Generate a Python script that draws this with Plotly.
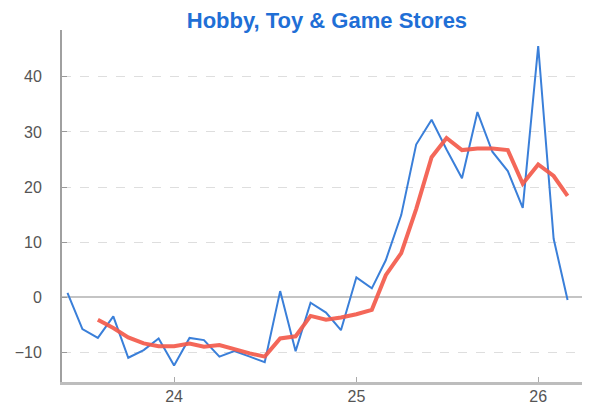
import pandas as pd
import plotly.graph_objects as go

months = pd.date_range("2023-06-01", periods=34, freq="MS")
monthly = [0.8, -5.8, -7.4, -3.5, -11.0, -9.6, -7.5,
           -12.4, -7.4, -7.8, -10.8, -9.8, -10.8, -11.8, 1.1, -9.8, -1.0, -2.8, -6.0,
           3.6, 1.6, 6.7, 14.9, 27.7, 32.2, 26.8, 21.6, 33.6, 26.4, 22.9, 16.2,
           45.6, 10.6, -0.5]
avg_months = months[2:]
moving_avg = [-4.1, -5.6, -7.3, -8.4, -8.9,
              -8.9, -8.4, -9.0, -8.7, -9.5, -10.2, -10.8, -7.5, -7.1, -3.4, -4.1, -3.7,
              -3.1, -2.3, 4.0, 8.0, 16.0, 25.4, 28.9, 26.7, 27.0, 27.0, 26.7, 20.6,
              24.1, 22.0, 18.4]
x_ticks = ["2024-01-01", "2025-01-01", "2026-01-01"]
x_tick_labels = ["24", "25", "26"]
y_ticks = [-10, 0, 10, 20, 30, 40]

fig = go.Figure()
fig.add_trace(go.Scatter(x=months, y=monthly, mode="lines",
                         line=dict(color="#3a7fd9", width=2), showlegend=False))
fig.add_trace(go.Scatter(x=avg_months, y=moving_avg, mode="lines",
                         line=dict(color="#f45b4b", width=4), opacity=0.92,
                         showlegend=False))

# page body has an 8px margin, so the figure is sized to the remaining area
fig.update_layout(
    width=582, height=398,
    margin=dict(l=54, r=0, t=22, b=24),
    paper_bgcolor="white", plot_bgcolor="white",
    font=dict(family="Liberation Sans, Arial, sans-serif", size=16, color="#555"),
    title=dict(text="<b>Hobby, Toy &amp; Game Stores</b>", x=0.548, xanchor="center",
               y=0.969, yanchor="middle", yref="container",
               font=dict(size=22, color="#1f6fd6")),
)
fig.update_xaxes(
    type="date", range=["2023-05-21", "2026-04-15"],
    tickvals=x_ticks, ticktext=x_tick_labels,
    showgrid=False, zeroline=False,
    showline=True, linecolor="#bdbdbd", linewidth=3,
    ticks="inside", ticklen=5, tickcolor="#aaa", tickwidth=1,
    ticklabelstandoff=-2,
)
fig.update_yaxes(
    range=[-15.4, 48.5], tickvals=y_ticks,
    showgrid=True, gridcolor="#dedede", griddash="dash", gridwidth=1,
    zeroline=True, zerolinecolor="#c4c4c4", zerolinewidth=2,
    showline=True, linecolor="#a0a0a0", linewidth=2,
    ticks="inside", ticklen=5, tickcolor="#999", tickwidth=1,
    ticklabelstandoff=15,
)
fig.write_html("out.html")
